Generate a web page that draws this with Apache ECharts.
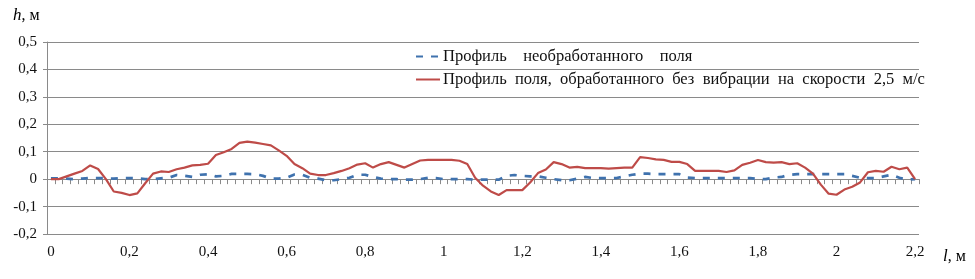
<!DOCTYPE html>
<html><head><meta charset="utf-8">
<script src="https://cdn.jsdelivr.net/npm/echarts@6/dist/echarts.min.js"></script>
<style>html,body{margin:0;padding:0;background:#fff;}#c{width:975px;height:279px;}</style>
</head><body><div id="c"></div>
<script>
const distances = [0,0.02,0.04,0.06,0.08,0.1,0.12,0.14,0.16,0.18,0.2,0.22,0.24,0.26,0.28,0.3,0.32,0.34,0.36,0.38,0.4,0.42,0.44,0.46,0.48,0.5,0.52,0.54,0.56,0.58,0.6,0.62,0.64,0.66,0.68,0.7,0.72,0.74,0.76,0.78,0.8,0.82,0.84,0.86,0.88,0.9,0.92,0.94,0.96,0.98,1,1.02,1.04,1.06,1.08,1.1,1.12,1.14,1.16,1.18,1.2,1.22,1.24,1.26,1.28,1.3,1.32,1.34,1.36,1.38,1.4,1.42,1.44,1.46,1.48,1.5,1.52,1.54,1.56,1.58,1.6,1.62,1.64,1.66,1.68,1.7,1.72,1.74,1.76,1.78,1.8,1.82,1.84,1.86,1.88,1.9,1.92,1.94,1.96,1.98,2,2.02,2.04,2.06,2.08,2.1,2.12,2.14,2.16,2.18,2.2];
const untreated = [0.003,0.003,0.002,0,0.002,0.004,0.004,0.003,0.002,0.004,0.004,0.003,0,0,0.003,0.005,0.015,0.012,0.008,0.016,0.018,0.01,0.012,0.019,0.019,0.019,0.018,0.012,0.002,0.002,0.005,0.017,0.016,0.005,0.002,-0.004,-0.004,0,0.005,0.016,0.016,0.008,0.002,0,0,-0.002,-0.002,0,0.005,0.004,0,0,0,0,-0.002,-0.002,-0.002,-0.002,0.012,0.015,0.012,0.01,0.01,0.005,0,-0.004,-0.004,0.002,0.008,0.004,0.004,0.004,0.004,0.01,0.016,0.02,0.02,0.018,0.018,0.018,0.018,0.006,0.004,0.004,0.004,0.004,0.004,0.004,0.004,0.004,0,0,0.006,0.008,0.016,0.018,0.018,0.018,0.018,0.018,0.018,0.018,0.012,0.005,0.004,0.004,0.01,0.016,0.005,-0.002,0];
const treated = [0,0,0.01,0.02,0.03,0.05,0.037,0,-0.045,-0.05,-0.058,-0.052,-0.015,0.02,0.028,0.026,0.036,0.042,0.05,0.052,0.056,0.088,0.098,0.11,0.132,0.137,0.133,0.128,0.123,0.105,0.085,0.055,0.04,0.02,0.015,0.015,0.022,0.03,0.04,0.053,0.058,0.042,0.055,0.062,0.052,0.042,0.055,0.068,0.07,0.07,0.07,0.07,0.067,0.055,0.005,-0.024,-0.045,-0.058,-0.04,-0.04,-0.04,-0.012,0.022,0.035,0.062,0.055,0.042,0.045,0.04,0.04,0.04,0.038,0.04,0.042,0.042,0.08,0.077,0.072,0.07,0.063,0.063,0.055,0.03,0.03,0.03,0.03,0.026,0.032,0.052,0.06,0.07,0.062,0.06,0.062,0.055,0.058,0.042,0.02,-0.02,-0.053,-0.057,-0.038,-0.028,-0.012,0.025,0.03,0.027,0.045,0.036,0.042,0];
const seriesNames = ['Профиль    необработанного    поля', 'Профиль  поля,  обработанного  без  вибрации  на  скорости  2,5  м/с'];
const yTicks = {min: -0.2, max: 0.5, step: 0.1};

const FONT = 'Liberation Serif';
const fmt = v => String(Math.round(v * 100) / 100).replace('.', ',');
const chart = echarts.init(document.getElementById('c'), null, {renderer: 'canvas'});
chart.setOption({
  animation: false,
  backgroundColor: '#fff',
  grid: {left: 47, right: 56, top: 42, bottom: 45, containLabel: false},
  title: [
    {text: '{i|h}, м', left: 8, top: 2, textStyle: {fontFamily: FONT, fontSize: 16, fontWeight: 'normal', color: '#000', rich: {i: {fontFamily: FONT, fontSize: 17, fontStyle: 'italic', color: '#000'}}}},
    {text: '{i|l}, м', left: 938, top: 243, textStyle: {fontFamily: FONT, fontSize: 16, fontWeight: 'normal', color: '#000', rich: {i: {fontFamily: FONT, fontSize: 17, fontStyle: 'italic', color: '#000'}}}}
  ],
  legend: {
    orient: 'vertical', left: 410, top: 43, itemWidth: 24, itemHeight: 14, itemGap: 6,
    itemStyle: {opacity: 0},
    textStyle: {fontFamily: FONT, fontSize: 16.5, color: '#111', padding: [0, 0, 0, -2]},
    data: seriesNames
  },
  xAxis: [
    {type: 'category', data: distances, boundaryGap: true, position: 'bottom',
     axisLine: {show: false, onZero: false}, axisTick: {show: false},
     axisLabel: {interval: 9, margin: 11, formatter: fmt, fontFamily: FONT, fontSize: 15, color: '#111'},
     splitLine: {show: false}},
    {type: 'category', data: distances, boundaryGap: true, position: 'bottom',
     axisLine: {show: true, onZero: true, lineStyle: {color: '#8a8a8a', width: 1}},
     axisTick: {show: true, interval: 0, length: 5, lineStyle: {color: '#8a8a8a'}},
     axisLabel: {show: false}, splitLine: {show: false}}
  ],
  yAxis: {
    type: 'value', min: yTicks.min, max: yTicks.max, interval: yTicks.step,
    axisLine: {show: true, lineStyle: {color: '#8a8a8a'}},
    axisTick: {show: true, length: 4, lineStyle: {color: '#8a8a8a'}},
    axisLabel: {formatter: fmt, margin: 10, fontFamily: FONT, fontSize: 15, color: '#111'},
    splitLine: {show: true, lineStyle: {color: '#8a8a8a', width: 1}}
  },
  series: [
    {name: seriesNames[0], type: 'line', data: untreated, xAxisIndex: 0, symbol: 'none',
     lineStyle: {color: '#3F72AE', width: 2.7, type: [7, 8]}, itemStyle: {color: '#3F72AE'}, z: 2},
    {name: seriesNames[1], type: 'line', data: treated, xAxisIndex: 0, symbol: 'none',
     lineStyle: {color: '#BE4B48', width: 2.2}, itemStyle: {color: '#BE4B48'}, z: 3}
  ]
});
</script></body></html>
